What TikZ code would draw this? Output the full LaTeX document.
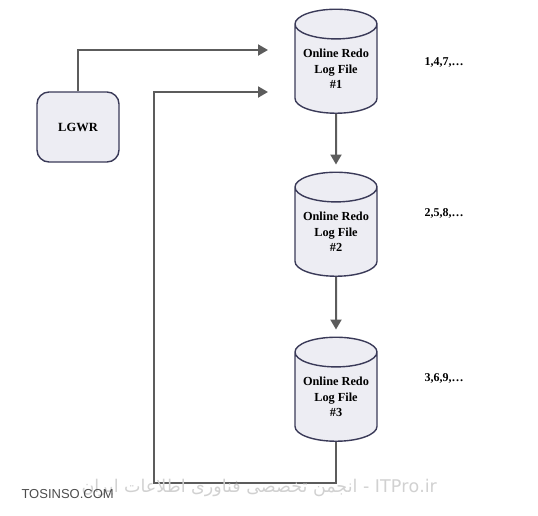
\documentclass[tikz,border=0pt]{standalone}
\usepackage{fontspec}
\setmainfont{Liberation Serif}
\newfontfamily\arabicfont[Script=Arabic]{DejaVu Sans}
\newfontfamily\markfont{Liberation Sans}
\TeXXeTstate=1
\usetikzlibrary{shapes.geometric,arrows.meta}
\definecolor{edgeblue}{RGB}{58,58,88}
\definecolor{bodyfill}{RGB}{237,237,243}
\definecolor{connector}{RGB}{92,92,92}
\tikzset{
	logfile/.style={cylinder, shape border rotate=90, aspect=0.45, draw=edgeblue, line width=1.4pt,
		fill=bodyfill, minimum width=82pt, minimum height=104pt, align=center, inner sep=0pt,
		font=\bfseries\fontsize{12.3}{15.3}\selectfont},
	procbox/.style={rectangle, rounded corners=12pt, draw=edgeblue, line width=1.4pt, fill=bodyfill,
		minimum width=82pt, minimum height=70pt, font=\bfseries\fontsize{12.5}{14}\selectfont},
	seqlabel/.style={font=\bfseries\fontsize{12}{14}\selectfont},
	flow/.style={draw=connector, line width=2pt, -{Triangle[length=10pt,width=11pt]}}
}
\begin{document}
\begin{tikzpicture}[x=1pt, y=-1pt]
		\useasboundingbox (0, 0) rectangle (538, 515);
		
		\node[procbox] (lgwr) at (78, 127) {LGWR};
		
		\node[logfile] (log1) at (336, 69) {Online Redo\\Log File\\\#1};
		\node[logfile] (log2) at (336, 232) {Online Redo\\Log File\\\#2};
		\node[logfile] (log3) at (336, 397) {Online Redo\\Log File\\\#3};
		
		\node[seqlabel] (seq1) at (444, 62) {1,4,7,…};
		\node[seqlabel] (seq2) at (444, 213) {2,5,8,…};
		\node[seqlabel] (seq3) at (444, 378) {3,6,9,…};
		
		\coordinate (in1) at (268, 50);
		\coordinate (in2) at (268, 92);
		\coordinate (back) at (154, 483);
		
		\draw[flow] (lgwr.north) |- (in1);
		\draw[flow, shorten >=7pt] (log1.south) -- (log2.north);
		\draw[flow, shorten >=7pt] (log2.south) -- (log3.north);
		\draw[flow] (log3.south) |- (back) |- (in2);
		
		\node[text=black!18, font=\arabicfont\fontsize{17.5}{19}\selectfont, anchor=west] (wm2) at (78, 488)
			{\beginR انجمن تخصصی فناوری اطلاعات ایران\endR{} - ITPro.ir};
		\node[text=black!70, font=\markfont\fontsize{13}{15}\selectfont, anchor=west] (wm1) at (18, 494) {TOSINSO.COM};
	\end{tikzpicture}
\end{document}
